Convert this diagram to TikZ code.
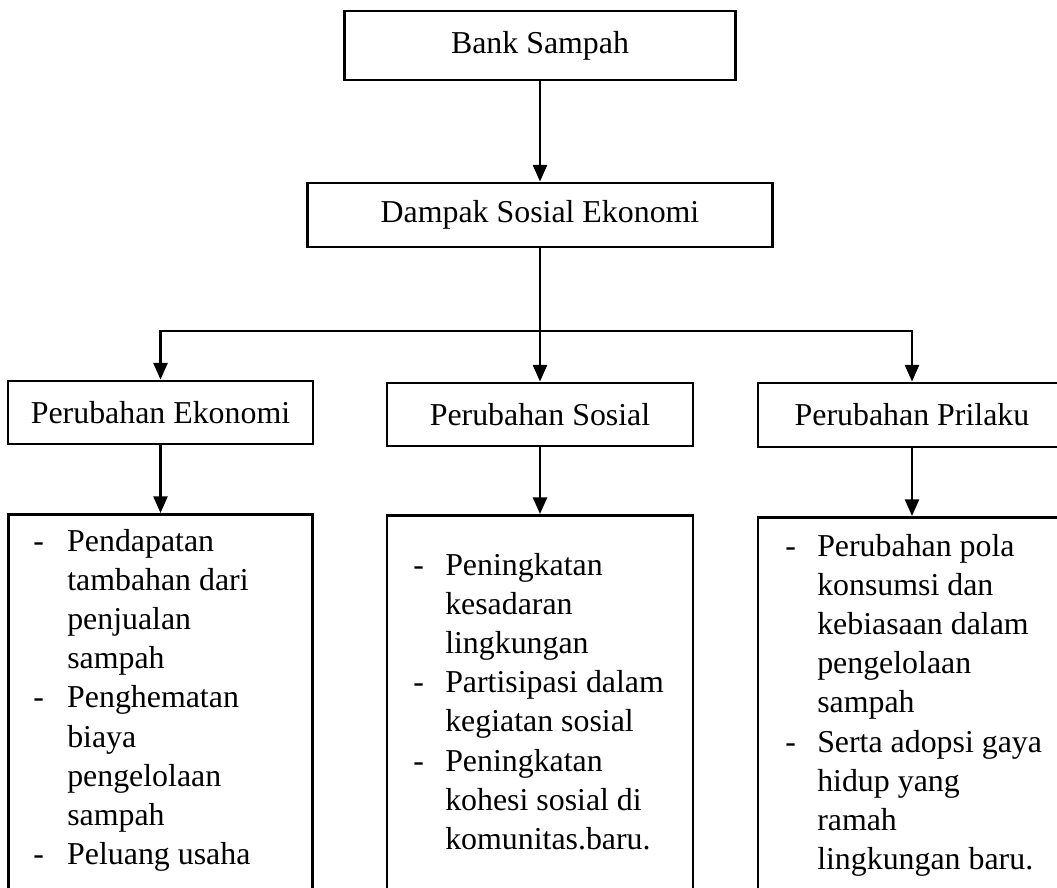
\documentclass[tikz,border=0pt]{standalone}
\usepackage{fontspec}
\setmainfont{Liberation Serif}
\usetikzlibrary{arrows.meta}
\tikzset{>={Triangle[length=12.5pt,width=10.5pt]}}
\tikzset{kotak/.style={draw, line width=2.1pt, rectangle, inner sep=0pt, align=center},
         panah/.style={->, line width=1.9pt},
         daftar/.style={anchor=base west, inner sep=0pt}}
\newcommand{\isi}{\fontsize{23.9pt}{29.4pt}\selectfont}

\begin{document}
\begin{tikzpicture}[x=0.75pt, y=-0.75pt, font=\isi]
            \useasboundingbox (0,0) rectangle (1057,888);
            \node[kotak, minimum width=293.25pt, minimum height=51.75pt] (bank) at (540,45.5) {Bank Sampah};
            \node[kotak, minimum width=348.75pt, minimum height=48pt] (dampak) at (540,215) {Dampak Sosial Ekonomi};
            \coordinate (cabang) at (540,331);
            \node[kotak, minimum width=228.75pt, minimum height=47.25pt] (ekonomi) at (160.5,412.5) {Perubahan Ekonomi};
            \node[kotak, minimum width=229.5pt, minimum height=47.25pt] (sosial) at (540,414.5) {Perubahan Sosial};
            \node[kotak, minimum width=231pt, minimum height=48pt] (prilaku) at (912,415) {Perubahan Prilaku};
            % kotak rincian, terpotong di bawah
            \node[kotak, anchor=north, minimum width=228pt, minimum height=360pt] (rincianEkonomi) at (160.5,513) {};
            \node[kotak, anchor=north, minimum width=229.5pt, minimum height=360pt] (rincianSosial) at (540,514) {};
            \node[kotak, anchor=north, minimum width=231pt, minimum height=360pt] (rincianPrilaku) at (912,516) {};
            \node[daftar] (teksEkonomi) at (33,551) {\begin{tabular}[t]{@{}p{25.5pt}@{}l@{}}
                -& Pendapatan\\ & tambahan dari\\ & penjualan\\ & sampah\\
                -& Penghematan\\ & biaya\\ & pengelolaan\\ & sampah\\
                -& Peluang usaha\end{tabular}};
            \node[daftar] (teksSosial) at (413,575) {\begin{tabular}[t]{@{}p{24pt}@{}l@{}}
                -& Peningkatan\\ & kesadaran\\ & lingkungan\\
                -& Partisipasi dalam\\ & kegiatan sosial\\
                -& Peningkatan\\ & kohesi sosial di\\ & komunitas.baru.\end{tabular}};
            \node[daftar] (teksPrilaku) at (785,556) {\begin{tabular}[t]{@{}p{24pt}@{}l@{}}
                -& Perubahan pola\\ & konsumsi dan\\ & kebiasaan dalam\\ & pengelolaan\\ & sampah\\
                -& Serta adopsi gaya\\ & hidup yang\\ & ramah\\ & lingkungan baru.\end{tabular}};
            \draw[panah] (bank) -- (dampak);
            \draw[line width=1.9pt] (dampak) -- (cabang);
            \draw[panah] (cabang) -| (ekonomi.north);
            \draw[panah] (cabang) -- (sosial);
            \draw[panah] (cabang) -| (prilaku.north);
            \draw[panah] (ekonomi) -- (rincianEkonomi);
            \draw[panah] (sosial) -- (rincianSosial);
            \draw[panah] (prilaku) -- (rincianPrilaku);
\end{tikzpicture}
\end{document}
